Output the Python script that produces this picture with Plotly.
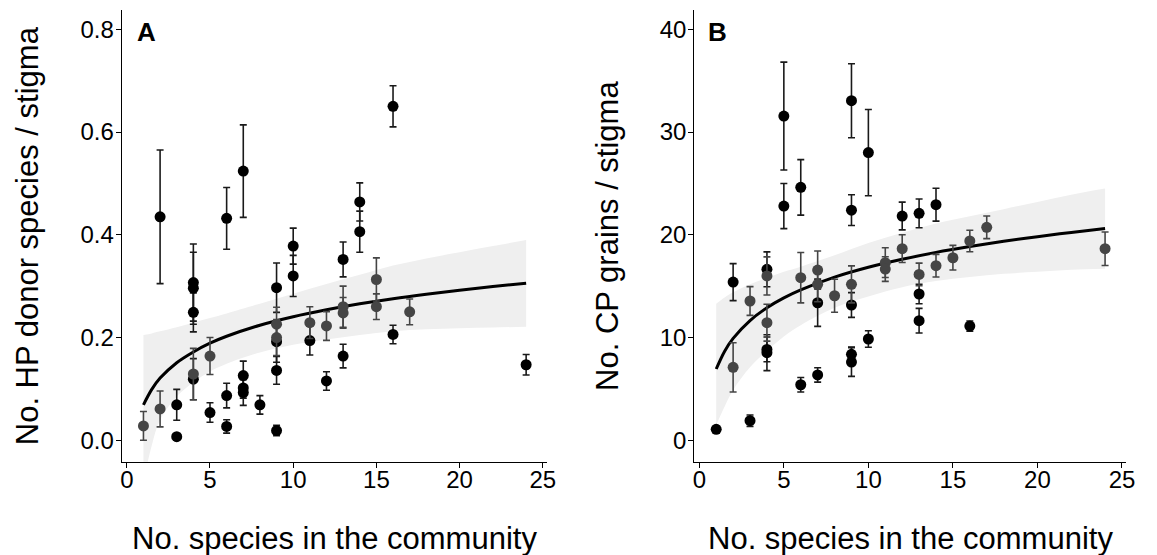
import plotly.graph_objects as go

# ---------------- Panel A data ----------------
a_x = [1, 2, 2, 3, 3, 4, 4, 4, 4, 4, 5, 5, 6, 6, 6, 7, 7, 7, 7, 8, 9, 9, 9, 9, 9, 9,
       10, 10, 11, 11, 12, 12, 13, 13, 13, 13, 14, 14, 15, 15, 16, 16, 17, 24]
a_y = [0.028, 0.061, 0.435, 0.069, 0.007, 0.307, 0.296, 0.249, 0.129, 0.119, 0.164, 0.054,
       0.432, 0.087, 0.027, 0.524, 0.126, 0.102, 0.093, 0.069, 0.297, 0.226, 0.200, 0.192,
       0.136, 0.019, 0.378, 0.320, 0.229, 0.194, 0.2225, 0.1155, 0.352, 0.260, 0.248, 0.164,
       0.464, 0.406, 0.313, 0.260, 0.650, 0.206, 0.250, 0.147]
a_err = [0.028, 0.035, 0.130, 0.030, 0.004, 0.075, 0.070, 0.038, 0.050, 0.040, 0.036, 0.019,
         0.060, 0.024, 0.013, 0.090, 0.028, 0.020, 0.025, 0.018, 0.048, 0.033, 0.035, 0.040,
         0.027, 0.010, 0.035, 0.040, 0.031, 0.028, 0.028, 0.018, 0.034, 0.040, 0.030, 0.023,
         0.037, 0.040, 0.042, 0.025, 0.040, 0.018, 0.025, 0.020]
a_grp = ["g", "g", "k", "k", "k", "k", "k", "k", "g", "k", "g", "k", "k", "k", "k", "k", "k",
         "k", "k", "k", "k", "g", "g", "k", "k", "k", "k", "k", "g", "k", "g", "k", "k", "g",
         "g", "k", "k", "k", "g", "g", "k", "k", "g", "k"]

fit_x = [1, 1.5, 2, 3, 4, 5, 6, 8, 10, 12, 14, 16, 18, 20, 22, 24]
a_fit = [0.069, 0.099, 0.121, 0.151, 0.172, 0.189, 0.2025, 0.224, 0.2405, 0.254, 0.2656,
         0.2756, 0.2843, 0.2922, 0.2993, 0.3058]
a_lo = [-0.08, -0.01, 0.04, 0.085, 0.113, 0.134, 0.149, 0.171, 0.186, 0.196, 0.205, 0.212,
        0.216, 0.218, 0.2195, 0.221]
a_hi = [0.205, 0.208, 0.212, 0.220, 0.229, 0.238, 0.247, 0.266, 0.285, 0.304, 0.322, 0.340,
        0.354, 0.366, 0.378, 0.390]

# ---------------- Panel B data ----------------
b_x = [1, 2, 2, 3, 3, 4, 4, 4, 4, 4, 5, 5, 6, 6, 6, 7, 7, 7, 7, 8, 9, 9, 9, 9, 9, 9,
       10, 10, 11, 11, 12, 12, 13, 13, 13, 13, 14, 14, 15, 16, 16, 17, 24]
b_y = [1.07, 15.4, 7.1, 13.56, 1.91, 16.64, 16.0, 11.45, 8.85, 8.53, 31.56, 22.8, 24.62,
       15.83, 5.41, 16.57, 15.18, 13.39, 6.36, 14.07, 33.05, 22.4, 15.18, 13.17, 8.37, 7.62,
       28.0, 9.86, 17.29, 16.67, 21.83, 18.65, 22.09, 16.15, 14.24, 11.64, 22.93, 17.0, 17.77,
       19.4, 11.12, 20.73, 18.65]
b_err = [0.3, 1.8, 2.4, 1.4, 0.55, 1.7, 1.85, 1.8, 1.2, 1.75, 5.25, 2.2, 2.7, 2.45, 0.7,
         1.85, 1.7, 2.3, 0.7, 1.6, 3.6, 1.5, 1.8, 1.2, 0.7, 1.4, 4.2, 0.8, 1.45, 1.2, 1.35,
         1.35, 1.4, 1.1, 0.95, 1.2, 1.6, 1.1, 1.2, 1.05, 0.5, 1.1, 1.63]
b_grp = ["k", "k", "g", "g", "k", "k", "g", "g", "k", "k", "k", "k", "k", "g", "k", "g", "g",
         "k", "k", "g", "k", "k", "g", "k", "k", "k", "k", "k", "g", "g", "k", "g", "k", "g",
         "k", "k", "k", "g", "g", "g", "k", "g", "g"]

b_fit = [6.94, 8.68, 9.92, 11.66, 12.90, 13.86, 14.64, 15.88, 16.84, 17.62, 18.29, 18.86,
         19.37, 19.82, 20.23, 20.61]
b_lo = [1.5, 3.3, 4.9, 7.1, 8.7, 10.1, 11.2, 12.9, 14.0, 14.9, 15.5, 15.9, 16.2, 16.4, 16.6,
        16.7]
b_hi = [13.3, 13.9, 14.4, 15.2, 15.8, 16.4, 16.9, 18.0, 19.2, 20.2, 21.1, 21.8, 22.5, 23.2,
        23.9, 24.5]

x_ticks = [0, 5, 10, 15, 20, 25]
a_yticks = [0.0, 0.2, 0.4, 0.6, 0.8]
a_yticktext = ["0.0", "0.2", "0.4", "0.6", "0.8"]
b_yticks = [0, 10, 20, 30, 40]

x_title = "No. species in the community"
a_ytitle = "No. HP donor species / stigma"
b_ytitle = "No. CP grains / stigma"

FONT = "Liberation Sans, Arial, Helvetica, sans-serif"
COL = {"k": "#000000", "g": "#454545"}
RIBBON = "#EFEFEF"

W, H = 1157, 555
fig = go.Figure()


def add_panel(xs, ys, errs, grps, fit, lo, hi, xa, ya):
    fig.add_trace(go.Scatter(x=fit_x, y=lo, mode="lines", line=dict(width=0, shape="spline"),
                             hoverinfo="skip", showlegend=False, xaxis=xa, yaxis=ya))
    fig.add_trace(go.Scatter(x=fit_x, y=hi, mode="lines", line=dict(width=0, shape="spline"),
                             fill="tonexty", fillcolor=RIBBON, hoverinfo="skip",
                             showlegend=False, xaxis=xa, yaxis=ya))
    fig.add_trace(go.Scatter(x=fit_x, y=fit, mode="lines",
                             line=dict(color="#000000", width=3, shape="spline"),
                             showlegend=False, xaxis=xa, yaxis=ya))
    for g in ["k", "g"]:
        idx = [i for i, v in enumerate(grps) if v == g]
        fig.add_trace(go.Scatter(
            x=[xs[i] for i in idx], y=[ys[i] for i in idx], mode="markers",
            marker=dict(color=COL[g], size=11, line=dict(width=0)),
            error_y=dict(type="data", array=[errs[i] for i in idx], visible=True,
                         color=COL[g] if g == "g" else "#1a1a1a", thickness=1.6, width=3.5),
            showlegend=False, xaxis=xa, yaxis=ya))


add_panel(a_x, a_y, a_err, a_grp, a_fit, a_lo, a_hi, "x", "y")
add_panel(b_x, b_y, b_err, b_grp, b_fit, b_lo, b_hi, "x2", "y2")

axis_common = dict(showline=True, linecolor="#000000", linewidth=1.3, ticks="outside",
                   ticklen=5, tickwidth=1.3, tickcolor="#000000", showgrid=False,
                   zeroline=False, mirror=False,
                   tickfont=dict(family=FONT, size=24, color="#000000"))

ydom = [1 - 461.7 / H, 1 - 10 / H]
fig.update_layout(
    width=W, height=H, margin=dict(l=0, r=0, t=0, b=0),
    plot_bgcolor="white", paper_bgcolor="white", showlegend=False,
    xaxis=dict(domain=[121 / W, 550 / W], range=[-0.298, 25.24], tickvals=x_ticks,
               anchor="y", ticklabelstandoff=-9, **axis_common),
    yaxis=dict(domain=ydom, range=[-0.0417, 0.8376], tickvals=a_yticks, ticktext=a_yticktext,
               anchor="x", ticklabelstandoff=-3, **axis_common),
    xaxis2=dict(domain=[699 / W, 1135 / W], range=[-0.293, 25.25], tickvals=x_ticks,
                anchor="y2", ticklabelstandoff=-9, **axis_common),
    yaxis2=dict(domain=ydom, range=[-2.08, 41.88], tickvals=b_yticks, anchor="x2",
                ticklabelstandoff=-3, **axis_common),
)

tfont = dict(family=FONT, size=31, color="#000000")
ann = [
    dict(text=x_title, x=335.5 / W, y=1 - 538.6 / H, xref="paper", yref="paper",
         xanchor="center", yanchor="middle", showarrow=False, font=tfont),
    dict(text=x_title, x=917 / W, y=1 - 538.6 / H, xref="paper", yref="paper",
         xanchor="center", yanchor="middle", showarrow=False, font=tfont),
    dict(text=a_ytitle, x=26.6 / W, y=1 - 235.9 / H, xref="paper", yref="paper",
         xanchor="center", yanchor="middle", textangle=-90, showarrow=False, font=tfont),
    dict(text=b_ytitle, x=611.8 / W, y=1 - 235.9 / H, xref="paper", yref="paper",
         xanchor="center", yanchor="middle", textangle=-90, showarrow=False, font=tfont),
    dict(text="<b>A</b>", x=145.7 / W, y=1 - 31.9 / H, xref="paper", yref="paper",
         xanchor="center", yanchor="middle", showarrow=False,
         font=dict(family=FONT, size=26, color="#000000")),
    dict(text="<b>B</b>", x=722.7 / W, y=1 - 31.9 / H, xref="paper", yref="paper",
         xanchor="center", yanchor="middle", showarrow=False,
         font=dict(family=FONT, size=26, color="#000000")),
]
fig.update_layout(annotations=ann)

fig.write_html("out.html", config={"displayModeBar": False},
               post_script="document.body.style.margin='0';document.body.style.padding='0';")
